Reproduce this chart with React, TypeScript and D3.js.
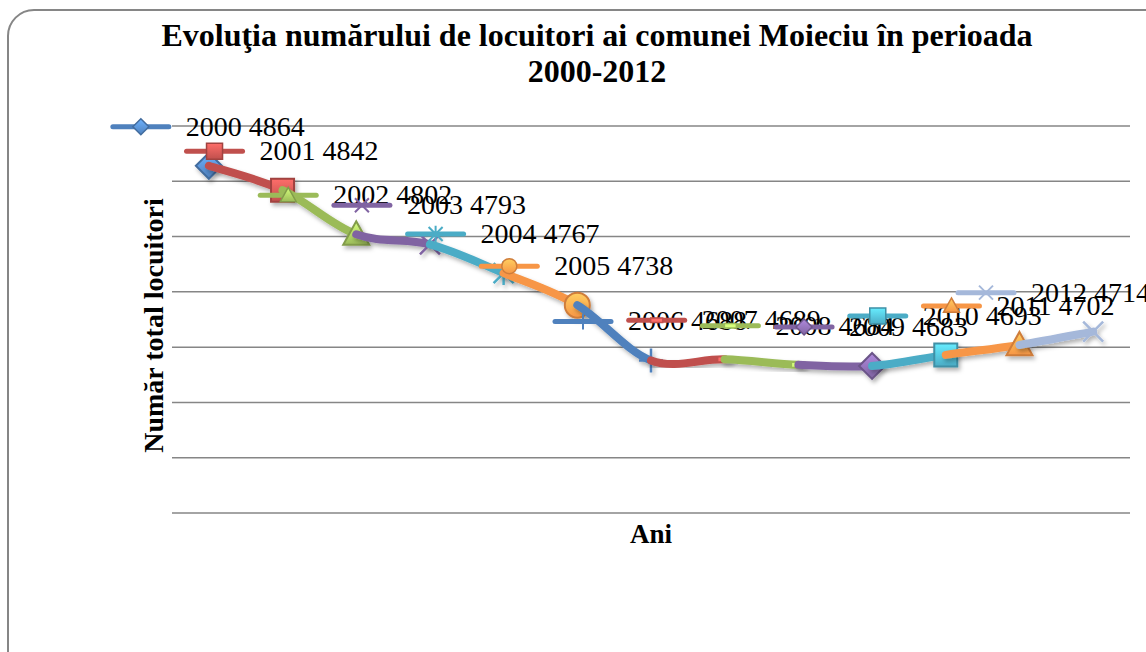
import React from 'react';
import * as d3 from 'd3';

const years = ['2000','2001','2002','2003','2004','2005','2006','2007','2008','2009','2010','2011','2012'];
const values = [4864, 4842, 4802, 4793, 4767, 4738, 4688, 4689, 4684, 4683, 4693, 4702, 4714];
const colors = ['#4F81BD','#C0504D','#9BBB59','#8064A2','#4BACC6','#F79646','#4F81BD','#C0504D','#9BBB59','#8064A2','#4BACC6','#F79646','#A5B8DA'];
const markerTypes = ['diamond','square','triangle','x','star','circle','plus','dash','dash','diamond','square','triangle','x'];
const yTicks = [4550, 4600, 4650, 4700, 4750, 4800, 4850, 4900];
const titleLines = ['Evoluţia numărului de locuitori ai comunei Moieciu în perioada', '2000-2012'];
const yTitle = 'Număr total locuitori';
const xTitle = 'Ani';

const W = 1146, H = 652;
const plotL = 172, plotR = 1130, plotT = 126, plotB = 513;
const labelFont = 28;
const labelRight = 1150;

function markerPath(type: string, cx: number, cy: number, r: number): string {
  const p = d3.path();
  switch (type) {
    case 'diamond':
      p.moveTo(cx, cy - r); p.lineTo(cx + r, cy); p.lineTo(cx, cy + r); p.lineTo(cx - r, cy); p.closePath(); break;
    case 'square':
      p.rect(cx - r, cy - r, 2 * r, 2 * r); break;
    case 'triangle':
      p.moveTo(cx, cy - r); p.lineTo(cx + r, cy + r * 0.8); p.lineTo(cx - r, cy + r * 0.8); p.closePath(); break;
    case 'circle':
      p.moveTo(cx + r, cy); p.arc(cx, cy, r, 0, Math.PI * 2); p.closePath(); break;
    case 'x':
      p.moveTo(cx - r, cy - r); p.lineTo(cx + r, cy + r); p.moveTo(cx - r, cy + r); p.lineTo(cx + r, cy - r); break;
    case 'star':
      p.moveTo(cx - r, cy - r); p.lineTo(cx + r, cy + r); p.moveTo(cx - r, cy + r); p.lineTo(cx + r, cy - r);
      p.moveTo(cx, cy - r * 1.2); p.lineTo(cx, cy + r * 1.2); break;
    case 'plus':
      p.moveTo(cx - r, cy); p.lineTo(cx + r, cy); p.moveTo(cx, cy - r); p.lineTo(cx, cy + r); break;
    case 'dash':
      p.rect(cx - r, cy - r * 0.38, 2 * r, r * 0.76); break;
  }
  return p.toString();
}

const strokeOnly = (t: string) => t === 'x' || t === 'star' || t === 'plus';

function Marker({ type, cx, cy, r, i, small }: { type: string; cx: number; cy: number; r: number; i: number; small?: boolean }) {
  const c = colors[i];
  const dark = d3.color(c)!.darker(0.5).formatHex();
  if (strokeOnly(type)) {
    return <path d={markerPath(type, cx, cy, r)} fill="none" stroke={c} strokeWidth={small ? 2 : 2.5} />;
  }
  if (type === 'dash') {
    return <path d={markerPath(type, cx, cy, r)} fill={d3.color(c)!.brighter(0.9).formatHex()} stroke={c} strokeWidth={1.5} />;
  }
  return <path d={markerPath(type, cx, cy, r)} fill={`url(#grad${i})`} stroke={dark} strokeWidth={small ? 1.5 : 2} strokeLinejoin="miter" />;
}

const bigR: Record<string, number> = { diamond: 13, square: 11.5, triangle: 13, circle: 12.5, x: 10, star: 10, plus: 12, dash: 7 };
const smallR: Record<string, number> = { diamond: 8, square: 8, triangle: 8, circle: 7.5, x: 7, star: 7, plus: 8, dash: 6 };

export default function App() {
  const x = d3.scaleBand<string>().domain(years).range([plotL, plotR]);
  const y = d3.scaleLinear().domain([4550, 4900]).range([plotB, plotT]);
  const pts: [number, number][] = years.map((yr, i) => [x(yr)! + x.bandwidth() / 2, y(values[i])]);

  const segPath = (i: number) => {
    const p0 = pts[Math.max(i - 2, 0)], p1 = pts[i - 1], p2 = pts[i], p3 = pts[Math.min(i + 1, pts.length - 1)];
    const p = d3.path();
    p.moveTo(p1[0], p1[1]);
    p.bezierCurveTo(p1[0] + (p2[0] - p0[0]) / 6, p1[1] + (p2[1] - p0[1]) / 6,
      p2[0] - (p3[0] - p1[0]) / 6, p2[1] - (p3[1] - p1[1]) / 6, p2[0], p2[1]);
    return p.toString();
  };

  const textW = labelFont * 4.25;

  return (
    <svg width={W} height={H} style={{ position: 'absolute', left: 0, top: 0, display: 'block', background: '#fff' }}
      fontFamily="'Liberation Serif', 'Times New Roman', serif">
      <defs>
        <filter id="shadow" x="-20%" y="-50%" width="140%" height="200%">
          <feDropShadow dx="2" dy="3" stdDeviation="2" floodColor="#000" floodOpacity="0.3" />
        </filter>
        {colors.map((c, i) => (
          <linearGradient key={i} id={`grad${i}`} x1="0" y1="0" x2="0" y2="1">
            <stop offset="0%" stopColor={d3.color(c)!.brighter(0.9).formatHex()} />
            <stop offset="100%" stopColor={c} />
          </linearGradient>
        ))}
      </defs>
      <rect x={8} y={10} width={1200} height={700} rx={26} ry={26} fill="#fff" stroke="#868686" strokeWidth={2} />

      {titleLines.map((t, k) => (
        <text key={k} x={597} y={46 + k * 36} textAnchor="middle" fontSize={32} fontWeight="bold" fill="#000">{t}</text>
      ))}

      {yTicks.map(t => (
        <line key={t} x1={plotL} x2={plotR} y1={y(t)} y2={y(t)} stroke="#868686" strokeWidth={1.5} />
      ))}

      <text transform={`translate(163, ${(188 + 463) / 2}) rotate(-90)`} textAnchor="middle" fontSize={28} fontWeight="bold">{yTitle}</text>
      <text x={(plotL + plotR) / 2} y={543} textAnchor="middle" fontSize={27} fontWeight="bold">{xTitle}</text>

      {years.map((yr, i) => (
        <g key={yr} filter="url(#shadow)">
          {i > 0 && <path d={segPath(i)} fill="none" stroke={colors[i]} strokeWidth={8} strokeLinecap="round" />}
          <Marker type={markerTypes[i]} cx={pts[i][0]} cy={pts[i][1]} r={bigR[markerTypes[i]]} i={i} />
        </g>
      ))}

      {years.map((yr, i) => {
        const cx = pts[i][0];
        const cy = pts[i][1] - 39;
        const shift = Math.max(0, cx - 23 + textW - labelRight);
        const kc = cx - 68 - shift;
        return (
          <g key={'l' + yr}>
            <line x1={kc - 28} x2={kc + 28} y1={cy} y2={cy} stroke={colors[i]} strokeWidth={5} strokeLinecap="round" />
            <Marker type={markerTypes[i]} cx={kc} cy={cy} r={smallR[markerTypes[i]]} i={i} small />
            <text x={cx - 23 - shift} y={cy + 9} fontSize={labelFont} fill="#000">{`${yr} ${values[i]}`}</text>
          </g>
        );
      })}
    </svg>
  );
}
